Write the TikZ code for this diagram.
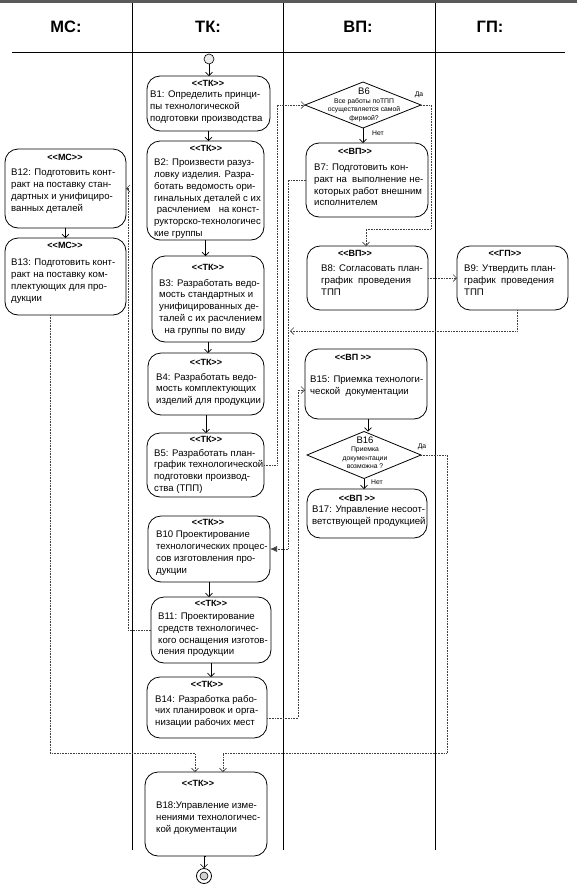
\documentclass[tikz,border=0pt]{standalone}
\usepackage{fontspec}
\setmainfont{Liberation Sans}
\usetikzlibrary{arrows.meta,shapes.geometric}
\newcommand{\stl}{<\kern0pt<}
\newcommand{\stg}{>\kern0pt>}
\newcommand{\mkbox}[5]{\node[box, minimum width={#3-#1}, minimum height={#4-#2}] (#5) at ({(#1+#3)/2},{(#2+#4)/2}) {};}
\begin{document}
\begin{tikzpicture}[x=1pt,y=-1pt,
  box/.style={draw, line width=0.8pt, rounded corners=13pt, inner sep=0pt, outer sep=0pt},
  stereo/.style={font=\bfseries\fontsize{9}{10}\selectfont, inner sep=0pt},
  body/.style={font=\fontsize{9.6}{11.7}\selectfont, align=left, anchor=north west, inner sep=0pt},
  dtext/.style={font=\fontsize{6.8}{8.4}\selectfont, align=center, inner sep=0pt},
  dnum/.style={font=\fontsize{9.5}{10}\selectfont, inner sep=0pt},
  small/.style={font=\fontsize{6.8}{8}\selectfont, inner sep=0pt},
  dia/.style={draw, diamond, line width=0.8pt, inner sep=0pt, outer sep=0pt},
  hdr/.style={font=\bfseries\fontsize{16.5}{18}\selectfont, inner sep=0pt},
  lane/.style={line width=1pt, black},
  arr/.style={-{Straight Barb[length=3.5pt,width=7pt]}, line width=0.6pt},
  darr/.style={arr, densely dotted, draw=gray!50!black},
  farr/.style={-{Latex[length=7pt,width=6pt]}, densely dotted, line width=0.6pt, draw=gray!50!black}
]
\useasboundingbox (0,0) rectangle (577,887);
\fill[white] (0,0) rectangle (577,887);
% frame
\draw[line width=3pt, gray!70!black] (0,1.5) -- (577,1.5);
\draw[line width=0.9pt] (12,52) -- (565,52);
\draw[lane] (132,3) -- (132,850);
\draw[lane] (283,3) -- (283,850);
\draw[lane] (435,3) -- (435,850);
\node[hdr] (hms) at (66,27) {МС:};
\node[hdr] (htk) at (208,27) {ТК:};
\node[hdr] (hvp) at (358,27) {ВП:};
\node[hdr] (hgp) at (490,27) {ГП:};

% start / end
\node[circle, draw, fill=gray!15, minimum size=10pt, inner sep=0pt, line width=0.6pt] (st) at (209,59) {};
\node[circle, draw, minimum size=15pt, inner sep=0pt, line width=0.8pt] (en) at (204,876) {};
\node[circle, draw, fill=gray!35, minimum size=8pt, inner sep=0pt, line width=0.6pt] (enin) at (en) {};

% TK lane
\mkbox{147}{76}{270}{131}{b1}
\node[stereo] (b1s) at (208,83) {\stl ТК\stg};
\node[body] (b1t) at (150,91) {В1: Определить принци-\\пы технологической\\подготовки производства};

\mkbox{147}{141}{264}{240}{b2}
\node[stereo] (b2s) at (206,148.5) {\stl ТК\stg};
\node[body] (b2t) at (154,159) {В2: Произвести разуз-\\ловку изделия. Разра-\\ботать ведомость ори-\\гинальных деталей с их\\\ расчлением \ \ на конст-\\рукторско-технологичес\\кие группы};

\mkbox{152}{256}{264}{342}{b3}
\node[stereo] (b3s) at (208,267) {\stl ТК\stg};
\node[body] (b3t) at (159,279) {В3: Разработать ведо-\\мость стандартных и\\унифицированных де-\\талей с их расчлением\\\ \ на группы по виду};

\mkbox{148}{353}{264}{415}{b4}
\node[stereo] (b4s) at (206,362) {\stl ТК\stg};
\node[body] (b4t) at (156,373) {В4: Разработать ведо-\\мость комплектующих\\изделий для продукции};

\mkbox{147}{433}{264}{497}{b5}
\node[stereo] (b5s) at (206,439) {\stl ТК\stg};
\node[body] (b5t) at (154,449) {В5: Разработать план-\\график технологической\\подготовки производ-\\ства (ТПП)};

\mkbox{148}{516}{270}{582}{b10}
\node[stereo] (b10s) at (208,522) {\stl ТК\stg};
\node[body] (b10t) at (156,531) {В10 Проектирование\\технологических процес-\\сов изготовления про-\\дукции};

\mkbox{151}{597}{271}{663}{b11}
\node[stereo] (b11s) at (211,603) {\stl ТК\stg};
\node[body] (b11t) at (158,613) {В11: Проектирование\\средств технологичес-\\кого оснащения изготов-\\ления продукции};

\mkbox{147}{677}{267}{738}{b14}
\node[stereo] (b14s) at (207,684) {\stl ТК\stg};
\node[body] (b14t) at (155,695) {В14: Разработка рабо-\\чих планировок и орга-\\низации рабочих мест};

\mkbox{145}{772}{267}{856}{b18}
\node[stereo] (b18s) at (198,783) {\stl ТК\stg};
\node[body] (b18t) at (156,802) {В18:Управление изме-\\нениями технологичес-\\кой документации};

% MS lane
\mkbox{5}{149}{126}{228}{b12}
\node[stereo] (b12s) at (65,157) {\stl МС\stg};
\node[body] (b12t) at (11,169) {В12: Подготовить конт-\\ракт на поставку стан-\\дартных и унифициро-\\ванных деталей};

\mkbox{5}{238}{126}{315}{b13}
\node[stereo] (b13s) at (65,245) {\stl МС\stg};
\node[body] (b13t) at (11,259) {В13: Подготовить конт-\\ракт на поставку ком-\\плектующих для про-\\дукции};

% VP lane
\node[dia, minimum width=116pt, minimum height=46pt] (b6) at (363,105) {};
\node[dnum] (b6n) at (364,91.5) {В6};
\node[dtext] (b6t) at (364,110) {Все работы поТПП\\осуществляется самой\\фирмой?};
\node[small] (b6y) at (419,95) {Да};
\node[small] (b6no) at (378,133) {Нет};

\mkbox{306}{143}{428}{217}{b7}
\node[stereo] (b7s) at (355,151) {\stl ВП\stg};
\node[body] (b7t) at (314,164) {В7: Подготовить кон-\\ракт на \ выполнение не-\\которых работ внешним\\исполнителем};

\mkbox{307}{246}{428}{310}{b8}
\node[stereo] (b8s) at (355,253) {\stl ВП\stg};
\node[body] (b8t) at (321,265) {В8: Согласовать план-\\график \ проведения\\ТПП};

\mkbox{305}{349}{427}{419}{b15}
\node[stereo] (b15s) at (353,357) {\stl ВП \stg};
\node[body] (b15t) at (310,376) {В15: Приемка технологи-\\ческой \ документации};

\node[dia, minimum width=114pt, minimum height=47pt] (b16) at (364,455) {};
\node[dnum] (b16n) at (365,440.5) {В16};
\node[dtext] (b16t) at (365,458) {Приемка\\документации\\возможна ?};
\node[small] (b16y) at (422,447) {Да};
\node[small] (b16no) at (377,482) {Нет};

\mkbox{307}{489}{427}{538}{b17}
\node[stereo] (b17s) at (357,498) {\stl ВП \stg};
\node[body] (b17t) at (312,506) {В17: Управление несоот-\\ветствующей продукцией};

% GP lane
\mkbox{457}{246}{568}{310}{b9}
\node[stereo] (b9s) at (505,253) {\stl ГП\stg};
\node[body] (b9t) at (464,265) {В9: Утвердить план-\\график \ проведения\\ТПП};

\coordinate (m9) at (290,331);

% solid arrows
\draw[arr] (st.south) -- (st.south |- b1.north);
\draw[arr] (b1.south) -- (b1.south |- b2.north);
\draw[arr] (b2.south) -- (b2.south |- b3.north);
\draw[arr] (b3.south) -- (b3.south |- b4.north);
\draw[arr] (b4.south) -- (b4.south |- b5.north);
\draw[arr] (b10.south) -- (b10.south |- b11.north);
\draw[arr] (b11.south) -- (b11.south |- b14.north);
\draw[arr] (b18.south) -- (b18.south -| en) -- (en.north);
\draw[arr] (b12.south) -- (b12.south |- b13.north);
\draw[arr] (b6.south) -- (b6.south |- b7.north);
\draw[arr] ([xshift=2pt]b15.south) -- ([xshift=2pt]b15.south |- b16.north);
\draw[arr] (b16.south) -- (b16.south |- b17.north);

% dotted connectors
\draw[darr] (b5.east) -- ++(13,0) |- (b6.west);
\draw[darr] (b6.east) -- ++(10,0) -- ++(0,124) -| ([xshift=-1.5pt]b8.north);
\draw[farr] (b7.west) -- ++(-18,0) |- (b10.east);
\draw[darr] (b8.east) -- (b9.west);
\draw[darr] ([xshift=4.5pt]b9.south) |- (m9);
\draw[darr] ([yshift=-10.5pt]b14.east) -- ++(31,0) |- ([yshift=-6pt]b15.west);
\draw[darr] (b11.west) -- ++(-23,0) |- (b12.east);
\draw[darr] ([xshift=-15.5pt]b13.south) -- ++(0,438) -| ([xshift=-11pt]b18.north);
\draw[darr] (b16.east) -- ++(26,0) -- ++(0,298) -| ([xshift=17pt]b18.north);
\end{tikzpicture}
\end{document}
